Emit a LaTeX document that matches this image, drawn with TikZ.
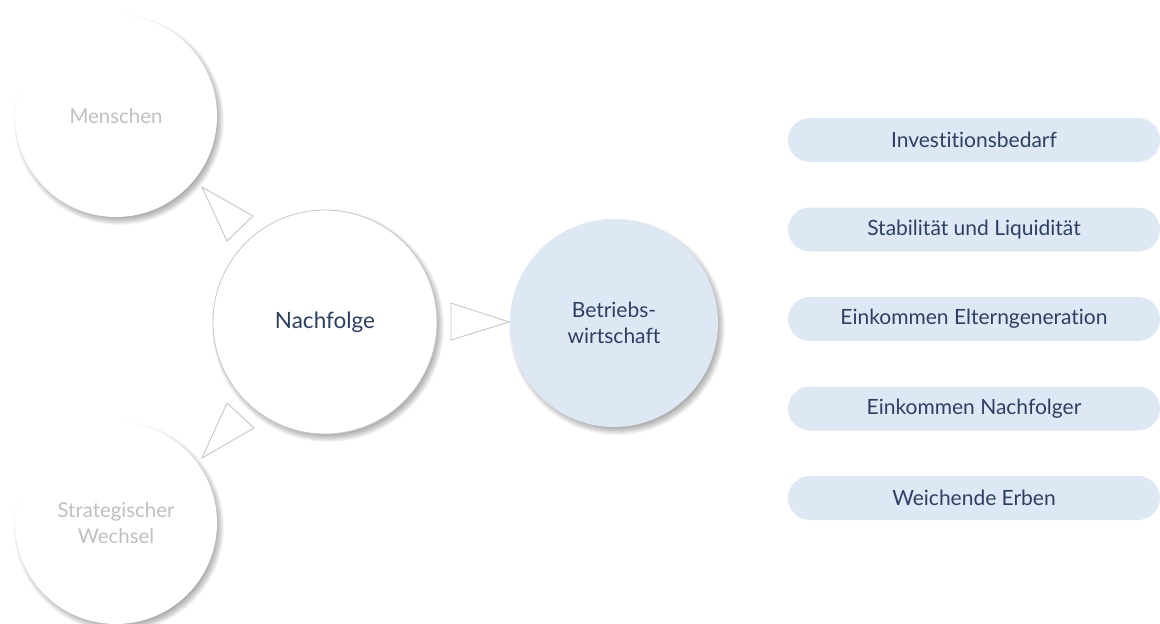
\documentclass[tikz,border=0pt]{standalone}
\usepackage{fontspec}
\setmainfont{Lato}[Ligatures=NoCommon]
\definecolor{lblue}{HTML}{DEE8F4}
\definecolor{navy}{HTML}{2D3F63}
\definecolor{ltxt}{HTML}{C0C0C0}
\definecolor{edge}{HTML}{C6C6C6}
\tikzset{
  bubble/.style={circle, fill=white, inner sep=0pt, align=center},
  graybubble/.style={bubble, minimum size=202pt, text=ltxt, font=\fontsize{20.4}{26}\selectfont},
  mainbubble/.style={bubble, minimum size=224pt, draw=edge, line width=0.8pt, text=navy, font=\fontsize{22.5}{26}\selectfont},
  bluebubble/.style={bubble, fill=lblue, minimum size=208pt, text=navy, font=\fontsize{21}{26}\selectfont},
  pill/.style={rectangle, rounded corners=22pt, fill=lblue, minimum width=372pt, minimum height=44pt, inner sep=0pt, text=navy, font=\fontsize{21}{24}\selectfont},
  tri/.style={draw=edge, fill=white, line width=0.9pt, line join=miter},
}
\newcommand\softshade[2]{%
  \foreach \k in {0,...,8}{%
    \pgfmathsetmacro\rr{#2+4-\k}%
    \fill[black, opacity=0.045] ([shift={(3,4)}]#1) circle[radius=\rr pt];
  }%
}
\begin{document}
\begin{tikzpicture}[x=1pt,y=-1pt]
\useasboundingbox (0,0) rectangle (1160,624);
\clip (0,0) rectangle (1160,624);
\coordinate (cM) at (116,116);
\coordinate (cN) at (325,322);
\coordinate (cB) at (614,323);
\coordinate (cS) at (116,523);
% shadows
\softshade{cM}{101}
\softshade{cS}{101}
\softshade{cN}{112}
\softshade{cB}{104}
% circles
\node[graybubble] (men) at (cM) {Menschen};
\node[graybubble] (str) at (cS) {Strategischer\\Wechsel};
\node[mainbubble] (nach) at (cN) {Nachfolge};
\node[bluebubble] (bw) at (cB) {Betriebs-\\wirtschaft};
% triangles
\draw[tri] (202,187) -- (253,216) -- (227,241) -- cycle;
\draw[tri] (509,322) -- (451,303) -- (451,340) -- cycle;
\draw[tri] (202,458) -- (227,403) -- (254,428) -- cycle;
% pills
\node[pill] (p1) at (974,140) {Investitionsbedarf};
\node[pill] (p2) at (974,229.5) {Stabilität und Liquidität};
\node[pill] (p3) at (974,319) {Einkommen Elterngeneration};
\node[pill] (p4) at (974,408.5) {Einkommen Nachfolger};
\node[pill] (p5) at (974,498) {Weichende Erben};
\end{tikzpicture}
\end{document}
